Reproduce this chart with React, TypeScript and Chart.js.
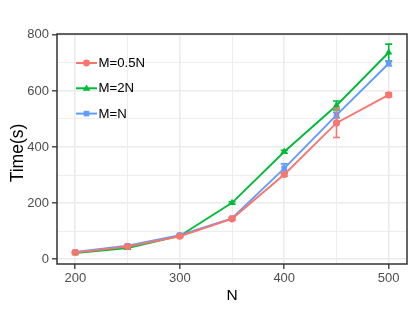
import React, { useEffect, useRef } from "react";
import { Chart, registerables } from "chart.js";

Chart.register(...registerables);

const N_VALUES = [200, 250, 300, 350, 400, 450, 500];
const X_TICKS = [200, 300, 400, 500];
const X_MINOR = [250, 350, 450];
const Y_TICKS = [0, 200, 400, 600, 800];
const Y_MINOR = [100, 300, 500, 700];

const SERIES_NAMES = ["M=0.5N", "M=2N", "M=N"];
const TIME_HALF = [24, 45, 82, 144, 302, 486, 586];
const TIME_TWO = [22, 40, 83, 201, 383, 548, 737];
const TIME_ONE = [26, 48, 86, 146, 324, 514, 698];
const ERR_HALF = [2, 3, 3, 4, 6, 52, 7];
const ERR_TWO = [2, 3, 3, 4, 5, 16, 30];
const ERR_ONE = [2, 3, 3, 4, 16, 10, 8];

const COLORS = ["#F8766D", "#00BA38", "#619CFF"];
const STYLES = ["circle", "triangle", "rect"];
const RADII = [3.6, 4.2, 4.0];

const FONT = "'Liberation Sans', Arial, Helvetica, sans-serif";

const toPoints = (vals: number[]) => N_VALUES.map((n, i) => ({ x: n, y: vals[i] }));

export default function App() {
  const ref = useRef<HTMLCanvasElement | null>(null);

  useEffect(() => {
    document.body.style.margin = "0";
    const canvas = ref.current;
    if (!canvas) return;
    const seriesVals = [TIME_HALF, TIME_TWO, TIME_ONE];
    const seriesErr = [ERR_HALF, ERR_TWO, ERR_ONE];

    const errorPlugin = {
      id: "errbars",
      afterDatasetDraw(chart: any, args: any) {
        const i = args.index;
        const ctx = chart.ctx;
        const xs = chart.scales.x;
        const ys = chart.scales.y;
        const a = chart.chartArea;
        ctx.save();
        ctx.beginPath();
        ctx.rect(a.left, a.top, a.right - a.left, a.bottom - a.top);
        ctx.clip();
        ctx.strokeStyle = COLORS[i];
        ctx.lineWidth = 1.6;
        N_VALUES.forEach((n, k) => {
          const x = xs.getPixelForValue(n);
          const y1 = ys.getPixelForValue(seriesVals[i][k] + seriesErr[i][k]);
          const y2 = ys.getPixelForValue(seriesVals[i][k] - seriesErr[i][k]);
          ctx.beginPath();
          ctx.moveTo(x, y1);
          ctx.lineTo(x, y2);
          ctx.moveTo(x - 3.5, y1);
          ctx.lineTo(x + 3.5, y1);
          ctx.moveTo(x - 3.5, y2);
          ctx.lineTo(x + 3.5, y2);
          ctx.stroke();
        });
        ctx.restore();
      },
    };

    const framePlugin = {
      id: "frame",
      afterDraw(chart: any) {
        const ctx = chart.ctx;
        const a = chart.chartArea;
        ctx.save();
        ctx.strokeStyle = "#333333";
        ctx.lineWidth = 1.5;
        ctx.strokeRect(a.left, a.top, a.right - a.left, a.bottom - a.top);

        // axis titles
        ctx.fillStyle = "#000000";
        ctx.font = `15.5px ${FONT}`;
        ctx.textAlign = "center";
        ctx.textBaseline = "alphabetic";
        ctx.fillText("N", (a.left + a.right) / 2, 299.5);
        ctx.save();
        ctx.translate(22.5, (a.top + a.bottom) / 2 + 4);
        ctx.rotate(-Math.PI / 2);
        ctx.font = `17.5px ${FONT}`;
        ctx.fillText("Time(s)", 0, 0);
        ctx.restore();

        // legend
        ctx.font = `13.2px ${FONT}`;
        ctx.textAlign = "left";
        ctx.textBaseline = "middle";
        SERIES_NAMES.forEach((name, i) => {
          const y = 63 + i * 25.3;
          const x0 = 76;
          const x1 = 97;
          ctx.strokeStyle = COLORS[i];
          ctx.lineWidth = 2;
          ctx.beginPath();
          ctx.moveTo(x0, y);
          ctx.lineTo(x1, y);
          ctx.stroke();
          ctx.fillStyle = COLORS[i];
          ctx.strokeStyle = COLORS[i];
          ctx.lineWidth = 1;
          const cx = (x0 + x1) / 2;
          if (STYLES[i] === "circle") {
            ctx.beginPath();
            ctx.arc(cx, y, 3.4, 0, Math.PI * 2);
            ctx.fill();
          } else if (STYLES[i] === "triangle") {
            ctx.beginPath();
            ctx.moveTo(cx, y - 3.8);
            ctx.lineTo(cx - 3.8, y + 2.4);
            ctx.lineTo(cx + 3.8, y + 2.4);
            ctx.closePath();
            ctx.fill();
          } else {
            ctx.fillRect(cx - 2.8, y - 2.8, 5.6, 5.6);
          }
          ctx.fillStyle = "#000000";
          ctx.fillText(name, 98.5, y + 0.5);
        });
        ctx.restore();
      },
    };

    const gridColor = "#EBEBEB";
    const chart = new Chart(canvas, {
      type: "line",
      data: {
        datasets: SERIES_NAMES.map((name, i) => ({
          label: name,
          data: toPoints(seriesVals[i]),
          borderColor: COLORS[i],
          backgroundColor: COLORS[i],
          pointBackgroundColor: COLORS[i],
          pointBorderColor: COLORS[i],
          pointStyle: STYLES[i] as any,
          pointRadius: RADII[i],
          pointBorderWidth: 0,
          borderWidth: 1.9,
          tension: 0,
          order: i === 0 ? 0 : i === 2 ? 1 : 2,
        })),
      },
      options: {
        animation: false,
        responsive: false,
        maintainAspectRatio: false,
        devicePixelRatio: 1,
        layout: { padding: { top: 34, right: 8, left: 0, bottom: 0 } },
        plugins: {
          legend: { display: false },
          tooltip: { enabled: false },
        },
        scales: {
          x: {
            type: "linear",
            min: 182.5,
            max: 517.5,
            afterBuildTicks: (s: any) => {
              s.ticks = [...X_TICKS, ...X_MINOR].sort((a, b) => a - b).map((v) => ({ value: v }));
            },
            afterFit: (s: any) => {
              s.height = 48;
            },
            border: { display: false },
            grid: {
              color: gridColor,
              lineWidth: (c: any) => (X_TICKS.includes(c.tick?.value) ? 1.6 : 0.9),
              tickColor: (c: any) => (X_TICKS.includes(c.tick?.value) ? "#333333" : "rgba(0,0,0,0)"),
              tickLength: 5,
              tickWidth: 1.3,
            },
            ticks: {
              autoSkip: false,
              maxRotation: 0,
              padding: 2,
              color: "#4D4D4D",
              font: { family: FONT, size: 13 },
              callback: (v: any) => (X_TICKS.includes(Number(v)) ? String(v) : ""),
            },
          },
          y: {
            type: "linear",
            min: -17,
            max: 803,
            afterBuildTicks: (s: any) => {
              s.ticks = [...Y_TICKS, ...Y_MINOR].sort((a, b) => a - b).map((v) => ({ value: v }));
            },
            afterFit: (s: any) => {
              s.width = 57;
            },
            border: { display: false },
            grid: {
              color: gridColor,
              lineWidth: (c: any) => (Y_TICKS.includes(c.tick?.value) ? 1.6 : 0.9),
              tickColor: (c: any) => (Y_TICKS.includes(c.tick?.value) ? "#333333" : "rgba(0,0,0,0)"),
              tickLength: 5,
              tickWidth: 1.3,
            },
            ticks: {
              autoSkip: false,
              padding: 3,
              color: "#4D4D4D",
              font: { family: FONT, size: 13 },
              callback: (v: any) => (Y_TICKS.includes(Number(v)) ? String(v) : ""),
            },
          },
        },
      },
      plugins: [errorPlugin, framePlugin],
    });
    return () => chart.destroy();
  }, []);

  return (
    <div style={{ width: 415, height: 312, background: "#FFFFFF" }}>
      <canvas ref={ref} width={415} height={312} style={{ display: "block" }} />
    </div>
  );
}
